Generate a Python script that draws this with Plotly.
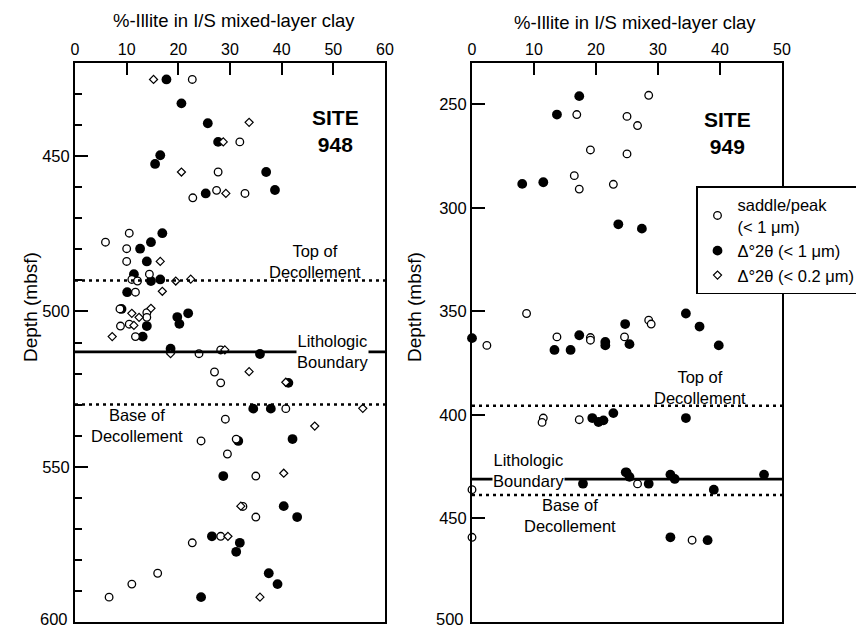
import plotly.graph_objects as go

W, H = 856, 629

# ---------------- Site 948 data (%-illite, depth mbsf) ----------------
s948_open_pct = [22.7, 31.9, 27.7, 27.4, 32.9, 22.8,
                 10.5, 5.9, 10.0, 10.0, 14.4, 11.0, 12.1, 11.7, 8.7, 13.9, 13.9, 8.8, 10.5, 11.7,
                 24.0, 28.2, 27.0, 28.2, 40.8, 29.1, 24.4, 31.2, 29.5, 35.0, 32.5, 35.0, 28.2, 22.7,
                 16.0, 11.0, 6.6]
s948_open_depth = [425.3, 445.4, 455.1, 461.0, 462.0, 463.4,
                   474.8, 477.7, 479.8, 483.9, 488.0, 489.7, 490.2, 493.8, 499.2, 500.4, 501.9, 504.7, 504.1, 508.1,
                   513.6, 512.4, 519.5, 523.0, 531.3, 534.7, 541.7, 541.1, 545.9, 553.0, 562.8, 566.2, 572.4, 574.5,
                   584.3, 587.8, 592.0]

s948_fill_pct = [17.7, 20.6, 25.7, 27.7, 16.5, 15.5, 37.0, 25.3, 38.7,
                 16.9, 14.7, 12.6, 13.9, 11.4, 14.7, 16.5, 10.1, 9.0, 19.8, 21.9, 20.2, 13.9, 13.1, 18.5, 35.8,
                 41.3, 34.5, 37.9, 31.6, 42.1, 28.7, 40.4, 43.0, 26.5, 31.9, 31.2, 37.5, 39.2, 24.4]
s948_fill_depth = [425.3, 433.0, 439.4, 445.4, 449.7, 452.5, 455.1, 462.0, 460.9,
                   474.8, 477.7, 479.8, 483.9, 488.0, 490.2, 489.7, 493.8, 499.2, 501.8, 500.6, 504.0, 504.7, 508.1, 512.0, 513.7,
                   523.0, 531.3, 531.3, 541.7, 541.1, 553.0, 562.7, 566.2, 572.4, 574.5, 577.4, 584.3, 587.8, 592.0]

s948_dia_pct = [15.2, 33.7, 28.7, 20.6, 29.2,
                16.5, 19.5, 22.4, 16.9, 14.7, 11.0, 12.4, 11.4, 7.2, 18.5, 29.0, 33.7, 40.8, 55.7, 46.4,
                40.4, 32.1, 29.6, 35.8]
s948_dia_depth = [425.3, 439.1, 445.4, 455.1, 462.0,
                  483.9, 490.2, 489.6, 493.5, 499.0, 500.6, 501.9, 504.5, 508.1, 513.6, 512.4, 519.4, 522.8, 531.2, 536.9,
                  552.1, 562.7, 572.4, 592.0]

# ---------------- Site 949 data ----------------
s949_open_pct = [28.5, 16.9, 25.0, 26.7, 19.1, 25.0, 16.5, 22.8, 17.3,
                 8.8, 28.5, 28.9, 2.4, 13.7, 19.1, 19.1, 24.6,
                 11.5, 11.3, 17.3, 25.0, 26.7, 0.0, 0.0, 35.5]
s949_open_depth = [245.6, 254.9, 255.8, 260.2, 272.0, 273.9, 284.4, 288.6, 290.9,
                   351.0, 354.2, 356.1, 366.4, 362.3, 362.6, 363.9, 362.3,
                   401.5, 403.6, 402.3, 427.7, 433.3, 436.1, 459.1, 460.5]

s949_fill_pct = [17.3, 13.7, 8.1, 11.5, 23.6, 27.4,
                 34.5, 24.7, 36.7, 0.0, 17.3, 21.5, 21.5, 25.4, 13.3, 15.9, 39.8,
                 19.4, 20.4, 21.2, 22.8, 34.5, 24.8, 25.4, 17.9, 28.5, 32.0, 32.7, 47.1, 39.0, 32.0, 38.0]
s949_fill_depth = [246.0, 254.9, 288.4, 287.6, 307.9, 310.0,
                   351.0, 356.1, 357.3, 362.9, 361.5, 364.7, 366.4, 365.8, 368.6, 368.6, 366.4,
                   401.5, 403.4, 402.6, 399.1, 401.5, 427.7, 429.9, 433.2, 433.2, 428.8, 430.9, 428.8, 436.1, 459.1, 460.5]

# ---------------- Boundaries (depth mbsf) ----------------
bound_names = ["top", "litho", "base"]
bound_948 = [490.0, 513.0, 530.0]
bound_949 = [395.5, 431.0, 438.6]

# ---------------- Depth ticks ----------------
y948_tickvals = [450, 500, 550, 600]
y948_ticktext = ["450", "500", "550", "600"]
y949_tickvals = [250, 300, 350, 400, 450, 500]
y949_ticktext = ["250", "300", "350", "400", "450", "500"]

FONT = "Arial, Liberation Sans, Helvetica, sans-serif"


def px(x):
    return x / W


def py(y):
    return 1 - y / H


open_marker = dict(symbol="circle", size=7.6, color="white", line=dict(color="black", width=1.3))
fill_marker = dict(symbol="circle", size=9.8, color="black", line=dict(color="black", width=0))
dia_marker = dict(symbol="diamond", size=6.2, color="white", line=dict(color="black", width=1.2))

fig = go.Figure()

# Site 948
fig.add_trace(go.Scatter(x=s948_fill_pct, y=s948_fill_depth, mode="markers", marker=fill_marker,
                         xaxis="x", yaxis="y", showlegend=False, cliponaxis=False))
fig.add_trace(go.Scatter(x=s948_open_pct, y=s948_open_depth, mode="markers", marker=open_marker,
                         xaxis="x", yaxis="y", showlegend=False, cliponaxis=False))
fig.add_trace(go.Scatter(x=s948_dia_pct, y=s948_dia_depth, mode="markers", marker=dia_marker,
                         xaxis="x", yaxis="y", showlegend=False, cliponaxis=False))
# Site 949 (legend traces)
fig.add_trace(go.Scatter(x=s949_open_pct, y=s949_open_depth, mode="markers", marker=open_marker,
                         xaxis="x2", yaxis="y2", name="saddle/peak<br>(&lt; 1 μm)", cliponaxis=False,
                         legendrank=1))
fig.add_trace(go.Scatter(x=s949_fill_pct, y=s949_fill_depth, mode="markers", marker=fill_marker,
                         xaxis="x2", yaxis="y2", name="Δ°2θ (&lt; 1 μm)", cliponaxis=False,
                         legendrank=2))
fig.add_trace(go.Scatter(x=[None], y=[None], mode="markers", marker=dia_marker,
                         xaxis="x2", yaxis="y2", name="Δ°2θ (&lt; 0.2 μm)", legendrank=3))

ydom = [1 - 622 / H, 1 - 63 / H]
common_x = dict(side="top", ticks="inside", ticklen=12, tickwidth=2, tickcolor="black",
                tickmode="linear", tick0=0, dtick=10, automargin=False,
                showline=True, linewidth=2, linecolor="black", mirror=True,
                showgrid=False, zeroline=False,
                tickfont=dict(family=FONT, size=16, color="black"))
common_y = dict(ticks="inside", ticklen=13, tickwidth=2, tickcolor="black",
                tickmode="array", automargin=False,
                showline=True, linewidth=2, linecolor="black", mirror=True,
                showgrid=False, zeroline=False,
                tickfont=dict(family=FONT, size=16.5, color="black"))

fig.update_layout(
    width=W, height=H,
    margin=dict(l=0, r=0, t=0, b=0, autoexpand=False),
    paper_bgcolor="white", plot_bgcolor="white",
    font=dict(family=FONT, color="black"),
    xaxis=dict(domain=[75 / W, 385 / W], range=[0, 60], anchor="y", **common_x),
    yaxis=dict(domain=ydom, range=[600, 420], anchor="x", tickvals=y948_tickvals,
               ticktext=y948_ticktext[:-1] + [""],
               minor=dict(tickmode="linear", tick0=0, dtick=10, ticks="inside", ticklen=7,
                          tickwidth=2.2, tickcolor="black", showgrid=False),
               **common_y),
    xaxis2=dict(domain=[472 / W, 782 / W], range=[0, 50], anchor="y2", **common_x),
    yaxis2=dict(domain=ydom, range=[500, 230], anchor="x2", tickvals=y949_tickvals,
                ticktext=y949_ticktext[:-1] + [""], **common_y),
    legend=dict(x=px(696), y=py(186), xanchor="left", yanchor="top",
                bgcolor="white", bordercolor="black", borderwidth=1.5,
                font=dict(family=FONT, size=16.5, color="black"),
                tracegroupgap=0, itemwidth=30),
    showlegend=True,
)


# Boundary lines
def add_bounds(depths, xref, yref):
    for name, d in zip(bound_names, depths):
        if name == "litho":
            line = dict(color="black", width=2.7)
        else:
            line = dict(color="black", width=2.5, dash="3px,4px")
        fig.add_shape(type="line", xref=xref + " domain", yref=yref, x0=0, x1=1, y0=d, y1=d,
                      line=line, layer="above")


add_bounds(bound_948, "x", "y")
add_bounds(bound_949, "x2", "y2")


def label(text, x, y, size=17, bold=False, bg=None, angle=0, xanchor="center", yanchor="middle"):
    fig.add_annotation(text=("<b>%s</b>" % text) if bold else text,
                       x=px(x), y=py(y), xref="paper", yref="paper",
                       xanchor=xanchor, yanchor=yanchor, showarrow=False, textangle=angle,
                       font=dict(family=FONT, size=size, color="black"),
                       bgcolor=bg, borderpad=0)


# bottom depth labels kept whole inside the page
label(y948_ticktext[-1], 68.5, 629, size=16.5, xanchor="right", yanchor="bottom")
label(y949_ticktext[-1], 465, 629, size=16.5, xanchor="right", yanchor="bottom")

# Axis titles
label("%-Illite in I/S mixed-layer clay", 234, 21, size=18.5)
label("%-Illite in I/S mixed-layer clay", 635, 23, size=18.5)
label("Depth (mbsf)", 30, 307, size=19, angle=-90)
label("Depth (mbsf)", 414, 307, size=19, angle=-90)

# Site labels
label("SITE<br>948", 335, 131, size=21, bold=True)
label("SITE<br>949", 727, 133, size=21, bold=True)

# Boundary labels, site 948
label("Top of<br>Decollement", 315, 261, size=16.5)
label("Lithologic<br>Boundary", 332, 351, size=16.5, bg="white")
label("Base of<br>Decollement", 137, 425, size=16.5)

# Boundary labels, site 949
label("Top of<br>Decollement", 700, 387, size=16.5)
label("Lithologic<br>Boundary", 528, 470, size=16.5, bg="white")
label("Base of<br>Decollement", 570, 515, size=16.5)

fig.write_html("out.html")
